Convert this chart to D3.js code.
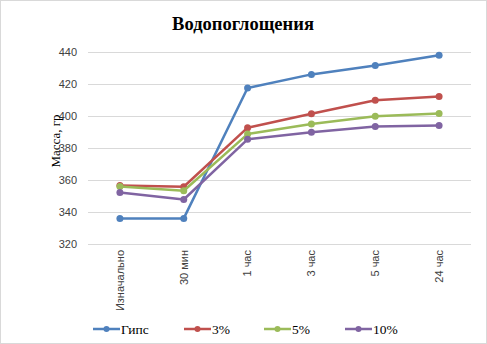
<!DOCTYPE html>
<html><head><meta charset="utf-8">
<script src="https://cdn.jsdelivr.net/npm/d3@7"></script>
<style>body{margin:0;background:#fff}svg{display:block}</style>
</head><body><svg id="c" width="487" height="344"></svg>
<script>
const categories = ["Изначально","30 мин","1 час","3 час","5 час","24 час"];
const seriesNames = ["Гипс","3%","5%","10%"];
const gips = [336, 336, 417.5, 426, 431.5, 438];
const p3 = [356.5, 355.8, 392.7, 401.4, 409.8, 412.2];
const p5 = [356, 353.3, 388.7, 395, 399.8, 401.6];
const p10 = [352.2, 347.8, 385.4, 389.8, 393.5, 394];
const yTicks = [320, 340, 360, 380, 400, 420, 440];
const colors = ["#4F81BD","#C0504D","#9BBB59","#8064A2"];
const series = [gips, p3, p5, p10];

const svg = d3.select("#c");
svg.append("rect").attr("x",0.5).attr("y",0.5).attr("width",486).attr("height",343)
  .attr("fill","#fff").attr("stroke","#d9d9d9");

const x = d3.scaleBand().domain(categories).range([88, 471]);
const y = d3.scaleLinear().domain([320, 440]).range([244, 52]);

svg.append("text").attr("x",243).attr("y",30).attr("text-anchor","middle")
  .attr("font-family","Liberation Serif").attr("font-weight","bold").attr("font-size",18.5)
  .text("Водопоглощения");

const ya = svg.append("g").attr("transform","translate(88,0)")
  .call(d3.axisLeft(y).tickValues(yTicks).tickSize(-383).tickPadding(11));
ya.select(".domain").remove();
ya.selectAll("line").attr("stroke","#d9d9d9");
ya.selectAll("text").attr("font-family","Liberation Sans").attr("font-size",11).attr("fill","#404040");

svg.append("text").attr("transform","translate(55,141) rotate(-90)").attr("text-anchor","middle")
  .attr("dy","0.35em")
  .attr("font-family","Liberation Serif").attr("font-size",13).attr("fill","#000").text("Масса, гр");

const xa = svg.append("g").attr("transform","translate(0,244)")
  .call(d3.axisBottom(x).tickSize(0).tickPadding(0));
xa.select(".domain").remove();
xa.selectAll("text").attr("font-family","Liberation Sans").attr("font-size",11).attr("fill","#404040")
  .attr("text-anchor","end").attr("transform","translate(0,6) rotate(-90)")
  .attr("dy","0.35em").attr("y",0).attr("x",0);

const line = d3.line().x((d,i)=>x(categories[i])+x.bandwidth()/2).y(d=>y(d));
series.forEach((s,k)=>{
  svg.append("path").datum(s).attr("d",line).attr("fill","none")
    .attr("stroke",colors[k]).attr("stroke-width",2.5).attr("stroke-linejoin","round");
  svg.selectAll(null).data(s).enter().append("circle")
    .attr("cx",(d,i)=>x(categories[i])+x.bandwidth()/2).attr("cy",d=>y(d)).attr("r",3.5)
    .attr("fill",colors[k]);
});

const legX = [93, 184, 264, 345];
seriesNames.forEach((n,k)=>{
  const g = svg.append("g").attr("transform",`translate(${legX[k]},329)`);
  g.append("line").attr("x1",0).attr("x2",27).attr("stroke",colors[k]).attr("stroke-width",2.5);
  g.append("circle").attr("cx",13.5).attr("r",3).attr("fill",colors[k]);
  g.append("text").attr("x",28).attr("dy","0.35em").attr("font-family","Liberation Serif")
    .attr("font-size",13.5).attr("fill","#000").text(n);
});
</script></body></html>
